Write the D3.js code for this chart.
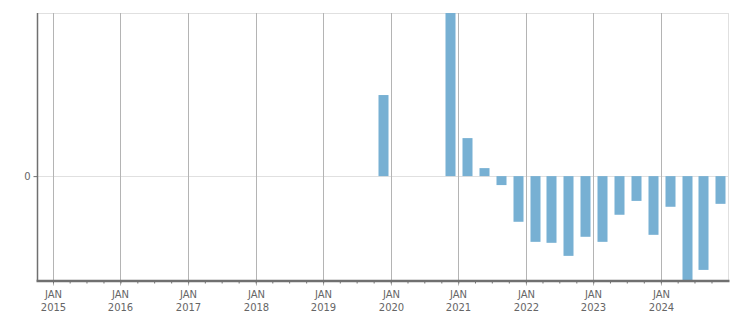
<!DOCTYPE html>
<html>
<head>
<meta charset="utf-8">
<script src="https://cdn.jsdelivr.net/npm/d3@7"></script>
<style>
  body { margin: 0; background: #fff; }
  text { font-family: "DejaVu Sans", Verdana, sans-serif; font-size: 10px; fill: #666; }
</style>
</head>
<body>
<svg id="chart" width="751" height="313"></svg>
<script>
// quarterly values (quarter start dates), only non-empty quarters
var quarters = ["2019-10", "2020-10", "2021-01", "2021-04", "2021-07", "2021-10",
                "2022-01", "2022-04", "2022-07", "2022-10", "2023-01", "2023-04",
                "2023-07", "2023-10", "2024-01", "2024-04", "2024-07", "2024-10"];
var values = [0.497, 1.0, 0.233, 0.049, -0.055, -0.28,
              -0.403, -0.409, -0.489, -0.372, -0.403, -0.237,
              -0.152, -0.36, -0.188, -0.64, -0.575, -0.17];
var yearLabels = ["2015", "2016", "2017", "2018", "2019", "2020", "2021", "2022", "2023", "2024"];
var yTicks = [0];

var LEFT = 37.5, RIGHT = 728.5, TOP = 13, BOTTOM = 280.5;

var parse = d3.timeParse("%Y-%m");
var data = quarters.map(function (q, i) { return {date: parse(q), value: values[i]}; });

var svg = d3.select("#chart");

var x = d3.scaleTime()
    .domain([new Date(2015, 0, 1), new Date(2025, 0, 1)])
    .range([53, RIGHT]);

var y = d3.scaleLinear()
    .domain([-0.64, 1.0])
    .range([BOTTOM, TOP]);

// frame lines (top, right) and zero line
svg.append("line").attr("x1", LEFT).attr("x2", RIGHT).attr("y1", TOP + 0.5).attr("y2", TOP + 0.5)
    .attr("stroke", "#e0e0e0");
svg.append("line").attr("x1", RIGHT).attr("x2", RIGHT).attr("y1", TOP).attr("y2", BOTTOM)
    .attr("stroke", "#e0e0e0");
svg.selectAll(".hgrid").data(yTicks).enter().append("line")
    .attr("x1", LEFT).attr("x2", RIGHT)
    .attr("y1", function (d) { return Math.round(y(d)) + 0.5; })
    .attr("y2", function (d) { return Math.round(y(d)) + 0.5; })
    .attr("stroke", "#e0e0e0");

// year gridlines
var years = yearLabels.map(function (s) { return new Date(+s, 0, 1); });
svg.selectAll(".vgrid").data(years).enter().append("line")
    .attr("x1", function (d) { return Math.round(x(d)) + 0.5; })
    .attr("x2", function (d) { return Math.round(x(d)) + 0.5; })
    .attr("y1", TOP).attr("y2", BOTTOM + 5)
    .attr("stroke", "#b4b4b4");

// bars
svg.append("g").selectAll("rect")
    .data(data)
    .enter()
    .append("rect")
    .attr("x", function (d) { return Math.round(x(d.date)) + 4.5; })
    .attr("width", 10)
    .attr("y", function (d) { return y(Math.max(0, d.value)); })
    .attr("height", function (d) { return Math.abs(y(d.value) - y(0)); })
    .attr("fill", "#77b0d3");

// minor quarter ticks
var xAxis = d3.axisBottom(x)
    .tickValues(d3.timeMonth.every(3).range(new Date(2015, 0, 1), new Date(2025, 0, 1)))
    .tickSize(3)
    .tickSizeOuter(0)
    .tickFormat("");
var gx = svg.append("g").attr("transform", "translate(0," + BOTTOM + ")").call(xAxis);
gx.select(".domain").remove();
gx.selectAll(".tick line").attr("stroke", "#707070");

// bottom axis line
svg.append("line").attr("x1", LEFT - 1).attr("x2", RIGHT + 1).attr("y1", BOTTOM + 0.5).attr("y2", BOTTOM + 0.5)
    .attr("stroke", "#707070").attr("stroke-width", 2.5);

// left axis
var yAxis = d3.axisLeft(y).tickValues(yTicks).tickFormat(d3.format("d"))
    .tickSize(4).tickSizeOuter(0).tickPadding(3);
var gy = svg.append("g").attr("transform", "translate(" + LEFT + ",0)").call(yAxis);
gy.select(".domain").remove();
gy.selectAll(".tick line").attr("stroke", "#707070");
gy.selectAll(".tick text").style("font-family", "DejaVu Sans").style("font-size", "10px").attr("fill", "#666");
svg.append("line").attr("x1", LEFT).attr("x2", LEFT).attr("y1", TOP).attr("y2", BOTTOM)
    .attr("stroke", "#707070").attr("stroke-width", 1.5);

// year labels
var lbl = svg.append("g").selectAll("text")
    .data(yearLabels)
    .enter()
    .append("text")
    .attr("text-anchor", "middle")
    .attr("transform", function (d) { return "translate(" + (Math.round(x(new Date(+d, 0, 1))) + 0.5) + ",0)"; });
lbl.append("tspan").attr("x", 0).attr("y", 298).text("JAN");
lbl.append("tspan").attr("x", 0).attr("y", 311).text(function (d) { return d; });
</script>
</body>
</html>
